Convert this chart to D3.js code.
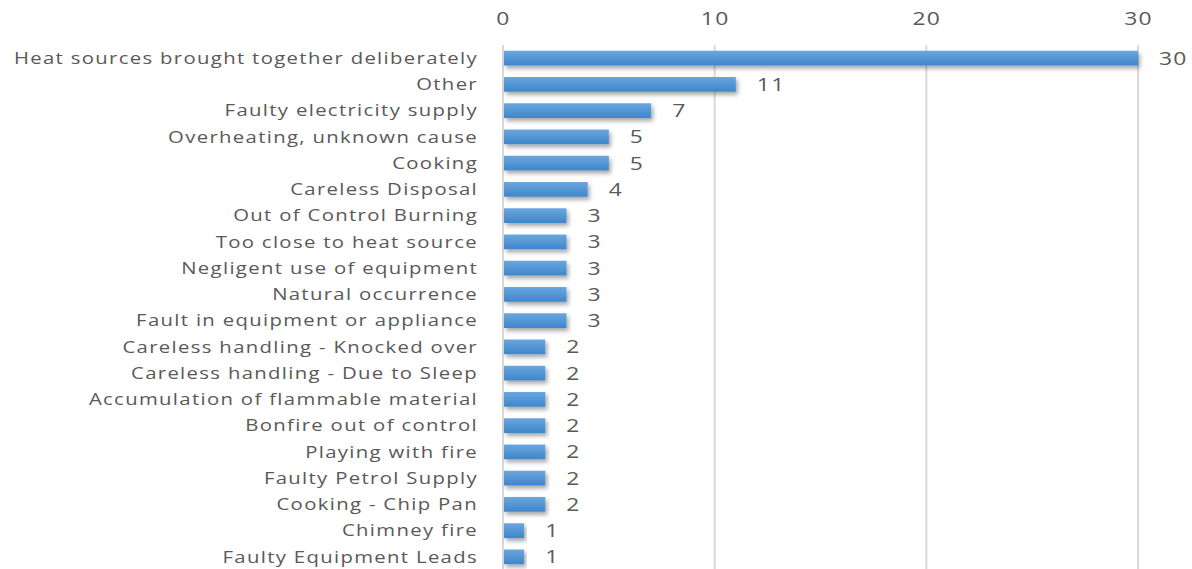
<!DOCTYPE html>
<html><head><meta charset="utf-8">
<script src="https://cdn.jsdelivr.net/npm/d3@7"></script>
<style>
body{margin:0;background:#fff;}
text{font-family:"Open Sans",sans-serif;fill:#595959;}
</style></head>
<body><svg id="c" width="1192" height="569"></svg>
<script>
const categories = ["Heat sources brought together deliberately","Other","Faulty electricity supply","Overheating, unknown cause","Cooking","Careless Disposal","Out of Control Burning","Too close to heat source","Negligent use of equipment","Natural occurrence","Fault in equipment or appliance","Careless handling - Knocked over","Careless handling - Due to Sleep","Accumulation of flammable material","Bonfire out of control","Playing with fire","Faulty Petrol Supply","Cooking - Chip Pan","Chimney fire","Faulty Equipment Leads"];
const values = [30,11,7,5,5,4,3,3,3,3,3,2,2,2,2,2,2,2,1,1];
const tickValues = [0,10,20,30];

const svg = d3.select("#c");
const x = d3.scaleLinear().domain([0,30]).range([503,1138]);
const y = d3.scaleBand().domain(categories).range([45,570]).paddingInner(0.44).paddingOuter(0.22);
const SX = 1.27;

const defs = svg.append("defs");
const g = defs.append("linearGradient").attr("id","bg").attr("x1",0).attr("y1",0).attr("x2",0).attr("y2",1);
g.append("stop").attr("offset","0%").attr("stop-color","#6aa6de");
g.append("stop").attr("offset","100%").attr("stop-color","#3f86cc");
const f = defs.append("filter").attr("id","sh").attr("x","-5%").attr("y","-50%").attr("width","115%").attr("height","250%");
f.append("feDropShadow").attr("dx",2).attr("dy",3).attr("stdDeviation",2).attr("flood-color","#000").attr("flood-opacity",0.35);

// gridlines
svg.append("g").selectAll("line").data(tickValues).join("line")
  .attr("x1",d=>x(d)).attr("x2",d=>x(d)).attr("y1",45).attr("y2",569)
  .attr("stroke","#d9d9d9").attr("stroke-width",2);

// top axis labels
const ax = svg.append("g").attr("transform","translate(0,25)")
  .call(d3.axisTop(x).tickValues(tickValues).tickSize(0).tickPadding(0));
ax.select(".domain").remove();
ax.selectAll("text").attr("font-size","18px").style("font-family","Open Sans").attr("fill","#595959")
  .attr("letter-spacing","1px").attr("transform",`scale(${SX},1)`);

// bars
svg.append("g").selectAll("rect").data(values).join("rect")
  .attr("x",x(0)+1).attr("y",(d,i)=>y(categories[i])).attr("height",y.bandwidth())
  .attr("width",d=>x(d)-x(0)-1).attr("fill","url(#bg)").attr("filter","url(#sh)");

// value labels
svg.append("g").selectAll("text").data(values).join("text")
  .attr("transform",(d,i)=>`translate(${x(d)+21},${y(categories[i])+y.bandwidth()/2}) scale(${SX},1)`)
  .attr("dy","0.36em")
  .attr("font-size","18px").attr("letter-spacing","1px").text(d=>d);

// category labels
svg.append("g").selectAll("text").data(categories).join("text")
  .attr("transform",d=>`translate(478,${y(d)+y.bandwidth()/2}) scale(${SX},1)`)
  .attr("dy","0.36em")
  .attr("text-anchor","end").attr("font-size","16px").attr("letter-spacing","1.05px").text(d=>d);
</script>
</body></html>
